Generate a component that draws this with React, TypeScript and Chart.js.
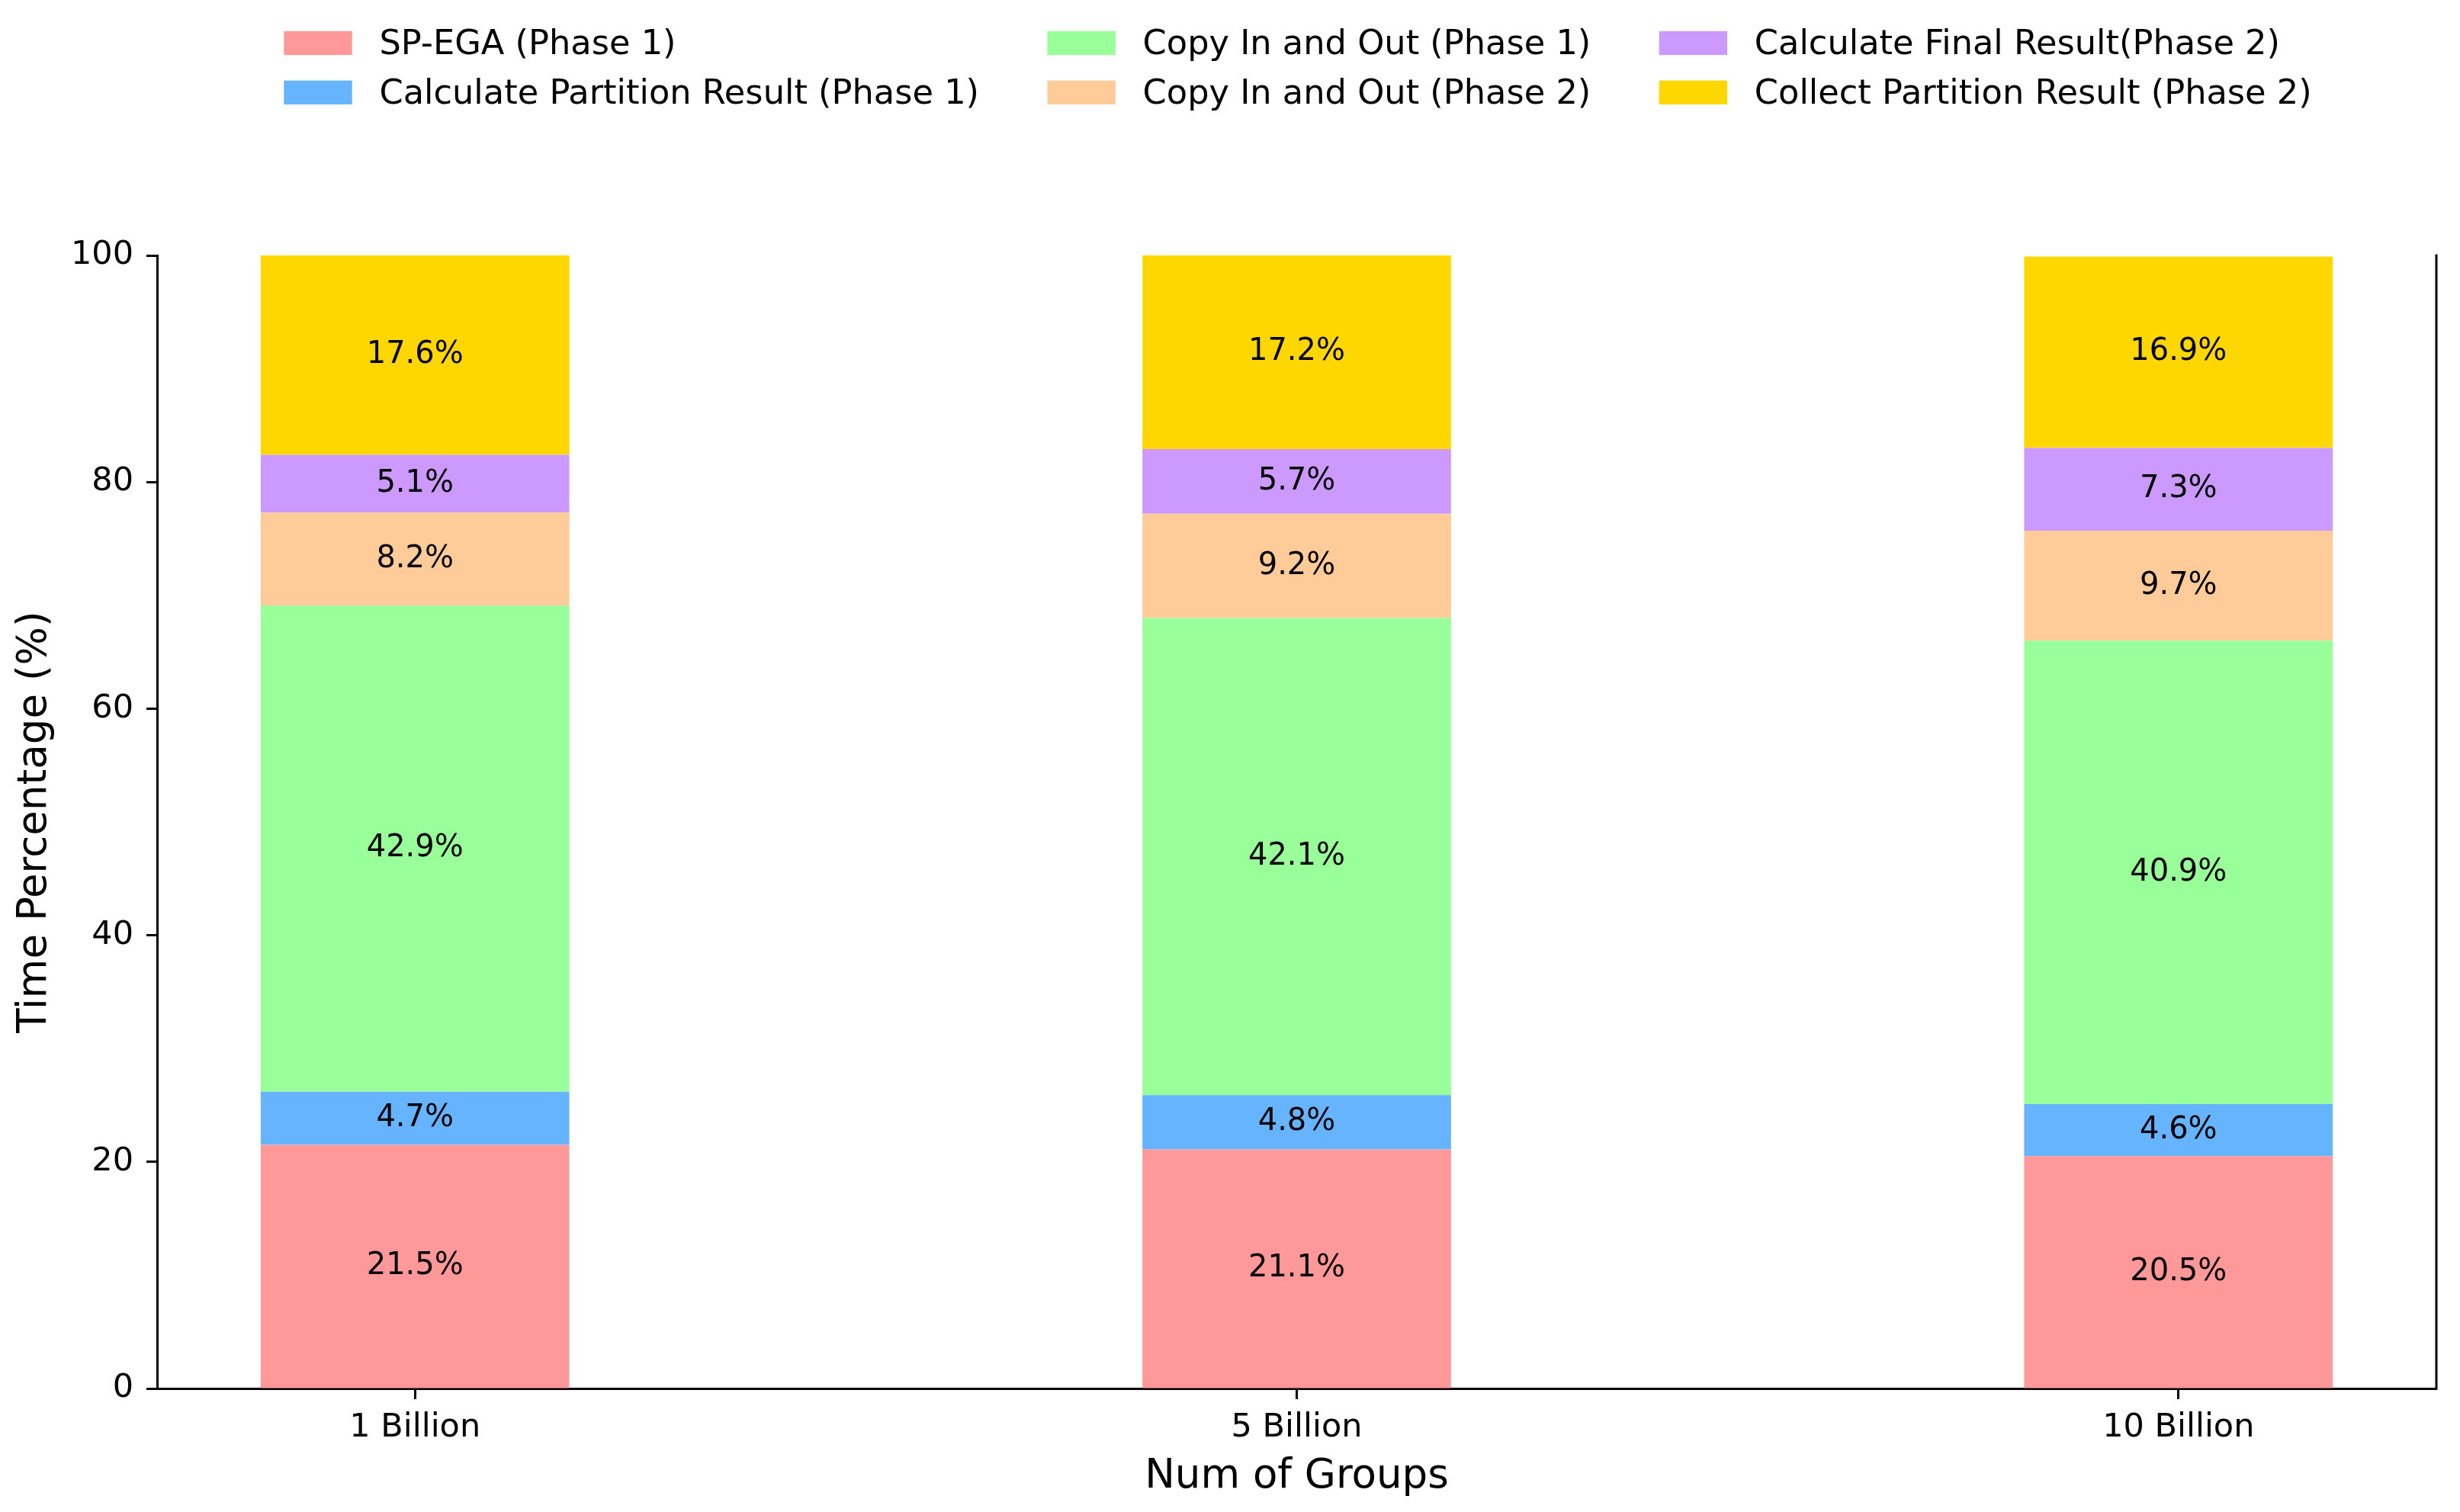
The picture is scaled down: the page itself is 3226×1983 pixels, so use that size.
import React, { useEffect, useRef } from "react";
import { Chart, registerables } from "chart.js";

Chart.register(...registerables);

// ---------- data ----------
const categories = ["1 Billion", "5 Billion", "10 Billion"];
const seriesNames = [
  "SP-EGA (Phase 1)",
  "Calculate Partition Result (Phase 1)",
  "Copy In and Out (Phase 1)",
  "Copy In and Out (Phase 2)",
  "Calculate Final Result(Phase 2)",
  "Collect Partition Result (Phase 2)",
];
const spEga = [21.5, 21.1, 20.5];
const calcPartition = [4.7, 4.8, 4.6];
const copyPhase1 = [42.9, 42.1, 40.9];
const copyPhase2 = [8.2, 9.2, 9.7];
const calcFinal = [5.1, 5.7, 7.3];
const collectPartition = [17.6, 17.2, 16.9];
const seriesValues = [spEga, calcPartition, copyPhase1, copyPhase2, calcFinal, collectPartition];
const seriesColors = ["#ff9999", "#66b3ff", "#99ff99", "#ffcc99", "#cc99ff", "#ffd700"];
const yMin = 0;
const yMax = 100;
const yStep = 20;

const W = 3226;
const H = 1983;
const FONT = "'DejaVu Sans', sans-serif";

export default function App() {
  const ref = useRef<HTMLCanvasElement>(null);

  useEffect(() => {
    const canvas = ref.current;
    if (!canvas) return;

    const barLabels = {
      id: "barLabels",
      afterDatasetsDraw(chart: any) {
        const ctx = chart.ctx;
        ctx.save();
        ctx.font = `40px ${FONT}`;
        ctx.fillStyle = "#000";
        ctx.textAlign = "center";
        ctx.textBaseline = "middle";
        chart.data.datasets.forEach((ds: any, di: number) => {
          const meta = chart.getDatasetMeta(di);
          meta.data.forEach((el: any, i: number) => {
            const v = seriesValues[di][i];
            const y = (el.y + el.base) / 2;
            ctx.fillText(`${v.toFixed(1)}%`, el.x, y);
          });
        });
        ctx.restore();
      },
    };

    const rightSpine = {
      id: "rightSpine",
      afterDraw(chart: any) {
        const { ctx, chartArea } = chart;
        ctx.save();
        ctx.strokeStyle = "#000";
        ctx.lineWidth = 3;
        ctx.beginPath();
        ctx.moveTo(chartArea.right, chartArea.top - 1.5);
        ctx.lineTo(chartArea.right, chartArea.bottom + 1.5);
        ctx.stroke();
        ctx.restore();
      },
    };

    const customLegend = {
      id: "customLegend",
      afterDraw(chart: any) {
        const { ctx, chartArea } = chart;
        const F = 44.7;
        const handleLen = 2 * F;
        const handleH = 0.7 * F;
        const textPad = 0.8 * F;
        const colSpacing = 2 * F;
        const rowY = [56.5, 121.3];
        const nRows = 2;
        ctx.save();
        ctx.font = `${F}px ${FONT}`;
        const names = chart.data.datasets.map((d: any) => d.label);
        const nCols = Math.ceil(names.length / nRows);
        const colW: number[] = [];
        for (let c = 0; c < nCols; c++) {
          let m = 0;
          for (let r = 0; r < nRows; r++) {
            const n = names[c * nRows + r];
            if (n) m = Math.max(m, ctx.measureText(n).width);
          }
          colW.push(handleLen + textPad + m);
        }
        const total = colW.reduce((a, b) => a + b, 0) + colSpacing * (nCols - 1);
        let x0 = (chartArea.left + chartArea.right) / 2 + 1.5 - total / 2;
        ctx.textAlign = "left";
        ctx.textBaseline = "middle";
        for (let c = 0; c < nCols; c++) {
          for (let r = 0; r < nRows; r++) {
            const idx = c * nRows + r;
            if (idx >= names.length) continue;
            const y = rowY[r];
            ctx.fillStyle = chart.data.datasets[idx].backgroundColor;
            ctx.fillRect(x0, y - handleH / 2, handleLen, handleH);
            ctx.fillStyle = "#000";
            ctx.fillText(names[idx], x0 + handleLen + textPad, y + 3);
          }
          x0 += colW[c] + colSpacing;
        }
        ctx.restore();
      },
    };

    const chart = new Chart(canvas, {
      type: "bar",
      data: {
        datasets: seriesNames.map((name, i) => ({
          label: name,
          data: seriesValues[i].map((v, j) => ({ x: j, y: v })),
          backgroundColor: seriesColors[i],
          borderWidth: 0,
          barPercentage: 0.35,
          categoryPercentage: 1,
        })),
      },
      options: {
        responsive: false,
        animation: false,
        devicePixelRatio: 1,
        layout: { padding: { left: 0, right: 31, top: 335, bottom: 0 } },
        plugins: {
          legend: { display: false },
          tooltip: { enabled: false },
        },
        scales: {
          x: {
            type: "linear",
            stacked: true,
            offset: false,
            min: -0.2925,
            max: 2.2925,
            z: 1,
            afterBuildTicks: (s: any) => {
              s.ticks = categories.map((_, i) => ({ value: i }));
            },
            afterFit: (s: any) => {
              s.height = 162;
            },
            ticks: {
              color: "#000",
              font: { family: FONT, size: 43 },
              padding: 12,
              maxRotation: 0,
              autoSkip: false,
              callback: (v: any) => categories[Math.round(Number(v))] ?? "",
            },
            grid: {
              display: true,
              offset: false,
              drawOnChartArea: false,
              drawTicks: true,
              tickLength: 14,
              tickWidth: 3,
              tickColor: "#000",
              color: "#000",
            },
            border: { display: true, color: "#000", width: 3 },
            title: {
              display: true,
              text: "Num of Groups",
              color: "#000",
              font: { family: FONT, size: 53, lineHeight: 1.2 },
              padding: { top: 0, bottom: 14 },
            },
          },
          y: {
            type: "linear",
            stacked: true,
            min: yMin,
            max: yMax,
            z: 1,
            afterFit: (s: any) => {
              s.width = 206;
            },
            ticks: {
              stepSize: yStep,
              color: "#000",
              font: { family: FONT, size: 43 },
              padding: 17,
            },
            grid: {
              display: true,
              drawOnChartArea: false,
              drawTicks: true,
              tickLength: 14,
              tickWidth: 3,
              tickColor: "#000",
              color: "#000",
            },
            border: { display: true, color: "#000", width: 3 },
            title: {
              display: true,
              text: "Time Percentage (%)",
              color: "#000",
              font: { family: FONT, size: 53, lineHeight: 1.2 },
              padding: { top: 14, bottom: 0 },
            },
          },
        },
      } as any,
      plugins: [barLabels, rightSpine, customLegend],
    });

    return () => chart.destroy();
  }, []);

  return (
    <div style={{ position: "fixed", left: 0, top: 0, width: W, height: H, background: "#fff" }}>
      <canvas ref={ref} width={W} height={H} style={{ display: "block", width: W, height: H }} />
    </div>
  );
}
